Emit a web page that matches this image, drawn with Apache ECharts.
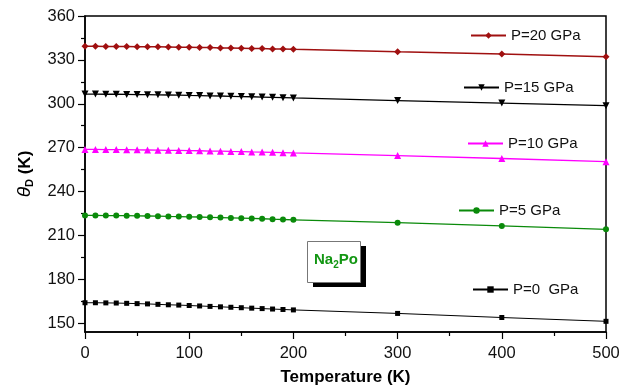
<!DOCTYPE html>
<html><head><meta charset="utf-8">
<script src="https://cdn.jsdelivr.net/npm/echarts@6/dist/echarts.min.js"></script>
<style>html,body{margin:0;padding:0;background:#fff}#c{width:632px;height:388px}</style>
</head><body><div id="c"></div>
<script>
const temps = [0,10,20,30,40,50,60,70,80,90,100,110,120,130,140,150,160,170,180,190,200,300,400,500];
const p0  = [164.0,164.0,163.9,163.8,163.6,163.4,163.2,162.9,162.6,162.4,162.1,161.8,161.5,161.2,160.9,160.6,160.3,160.0,159.7,159.4,159.1,156.7,153.9,151.3];
const p5  = [223.7,223.7,223.6,223.6,223.5,223.4,223.3,223.2,223.0,222.9,222.7,222.6,222.4,222.2,222.0,221.8,221.6,221.4,221.1,220.9,220.7,218.7,216.5,214.2];
const p10 = [268.8,268.8,268.7,268.7,268.6,268.5,268.4,268.3,268.2,268.1,268.0,267.9,267.7,267.6,267.4,267.3,267.1,267.0,266.8,266.6,266.4,264.6,262.6,260.4];
const p15 = [306.6,306.6,306.5,306.5,306.4,306.3,306.2,306.1,306.0,305.9,305.7,305.6,305.4,305.3,305.1,304.9,304.8,304.6,304.4,304.2,304.0,302.2,300.5,298.7];
const p20 = [339.3,339.3,339.2,339.2,339.1,339.0,338.9,338.9,338.8,338.7,338.6,338.5,338.4,338.2,338.1,338.0,337.8,337.7,337.5,337.4,337.2,335.5,334.0,332.2];
const yMajor = [150,180,210,240,270,300,330,360];
const yMinor = [165,195,225,255,285,315,345];
const names = ['P=0  GPa','P=5 GPa','P=10 GPa','P=15 GPa','P=20 GPa'];

const pair = arr => temps.map((t,i)=>[t,arr[i]]);
const chart = echarts.init(document.getElementById('c'));
const FONT = 'Liberation Sans, Arial, sans-serif';
function ser(name, arr, color, symbol, size, lw){
  return {name, type:'line', data:pair(arr), symbol, symbolSize:size, color,
    lineStyle:{color, width:lw}, itemStyle:{color}, animation:false, z:3};
}
function leg(name, left, top){
  return {data:[name], left, top, itemWidth:35, itemHeight:8, selectedMode:false,
    textStyle:{fontSize:15, color:'#111', fontFamily:FONT}, padding:0, itemGap:0};
}
chart.setOption({
  animation:false,
  grid:{left:85, right:26, top:16, bottom:56, show:true, borderColor:'#000', borderWidth:1.5,
    containLabel:false, outerBoundsMode:'none'},
  xAxis:{type:'value', min:0, max:500, interval:100,
    axisLine:{lineStyle:{color:'#000', width:1.5}},
    axisTick:{inside:false, length:7, lineStyle:{color:'#000', width:1.2}},
    minorTick:{show:true, splitNumber:2, length:4, lineStyle:{color:'#000', width:1.2}},
    splitLine:{show:false},
    axisLabel:{fontSize:16.5, color:'#111', margin:13, fontFamily:FONT},
    name:'Temperature (K)', nameLocation:'middle', nameGap:37,
    nameTextStyle:{fontSize:17, fontWeight:'bold', color:'#000', fontFamily:FONT}},
  yAxis:[{type:'value', min:144, max:360,
    axisLine:{show:true, lineStyle:{color:'#000', width:1.5}},
    axisTick:{show:true, length:7, customValues:yMajor, lineStyle:{color:'#000', width:1.2}},
    splitLine:{show:false},
    axisLabel:{fontSize:16.5, color:'#111', margin:10, customValues:yMajor, fontFamily:FONT},
    name:'{t|θ}{s|D}{n| (K)}', nameLocation:'middle', nameGap:50,
    nameTextStyle:{rich:{
      t:{fontSize:19, fontStyle:'italic', color:'#000', fontFamily:FONT},
      s:{fontSize:11, fontWeight:'bold', color:'#000', fontFamily:FONT, padding:[9,0,0,0]},
      n:{fontSize:17, fontWeight:'bold', color:'#000', fontFamily:FONT}}}},
   {type:'value', min:144, max:360, position:'left',
    axisLine:{show:false}, splitLine:{show:false}, axisLabel:{show:false},
    axisTick:{show:true, length:4, customValues:yMinor, lineStyle:{color:'#000', width:1.2}}}],
  legend:[leg(names[4],470,28), leg(names[3],463,80), leg(names[2],467,136), leg(names[1],458,203), leg(names[0],472,282)],
  series:[
    ser(names[0], p0, '#000000', 'rect', 5, 1),
    ser(names[1], p5, '#0a8a0a', 'circle', 6, 1.3),
    ser(names[2], p10, '#ff00ff', 'triangle', 7, 1.3),
    ser(names[3], p15, '#000000', 'path://M0,0 L10,0 L5,9 Z', 7, 1.3),
    ser(names[4], p20, '#a01010', 'diamond', 7, 1.5)
  ],
  graphic:[
    {type:'rect', left:313, top:246, shape:{width:53, height:41}, style:{fill:'#000'}, z:10},
    {type:'rect', left:307, top:241, shape:{width:53, height:41}, style:{fill:'#fff', stroke:'#777', lineWidth:1}, z:11},
    {type:'text', left:314, top:252, z:12, style:{
      text:'{a|Na}{b|2}{a|Po}',
      rich:{a:{fontSize:15, fontWeight:'bold', fill:'#139613', fontFamily:FONT},
            b:{fontSize:10, fontWeight:'bold', fill:'#139613', fontFamily:FONT, padding:[12,0,0,0]}}}}
  ]
});
</script></body></html>
